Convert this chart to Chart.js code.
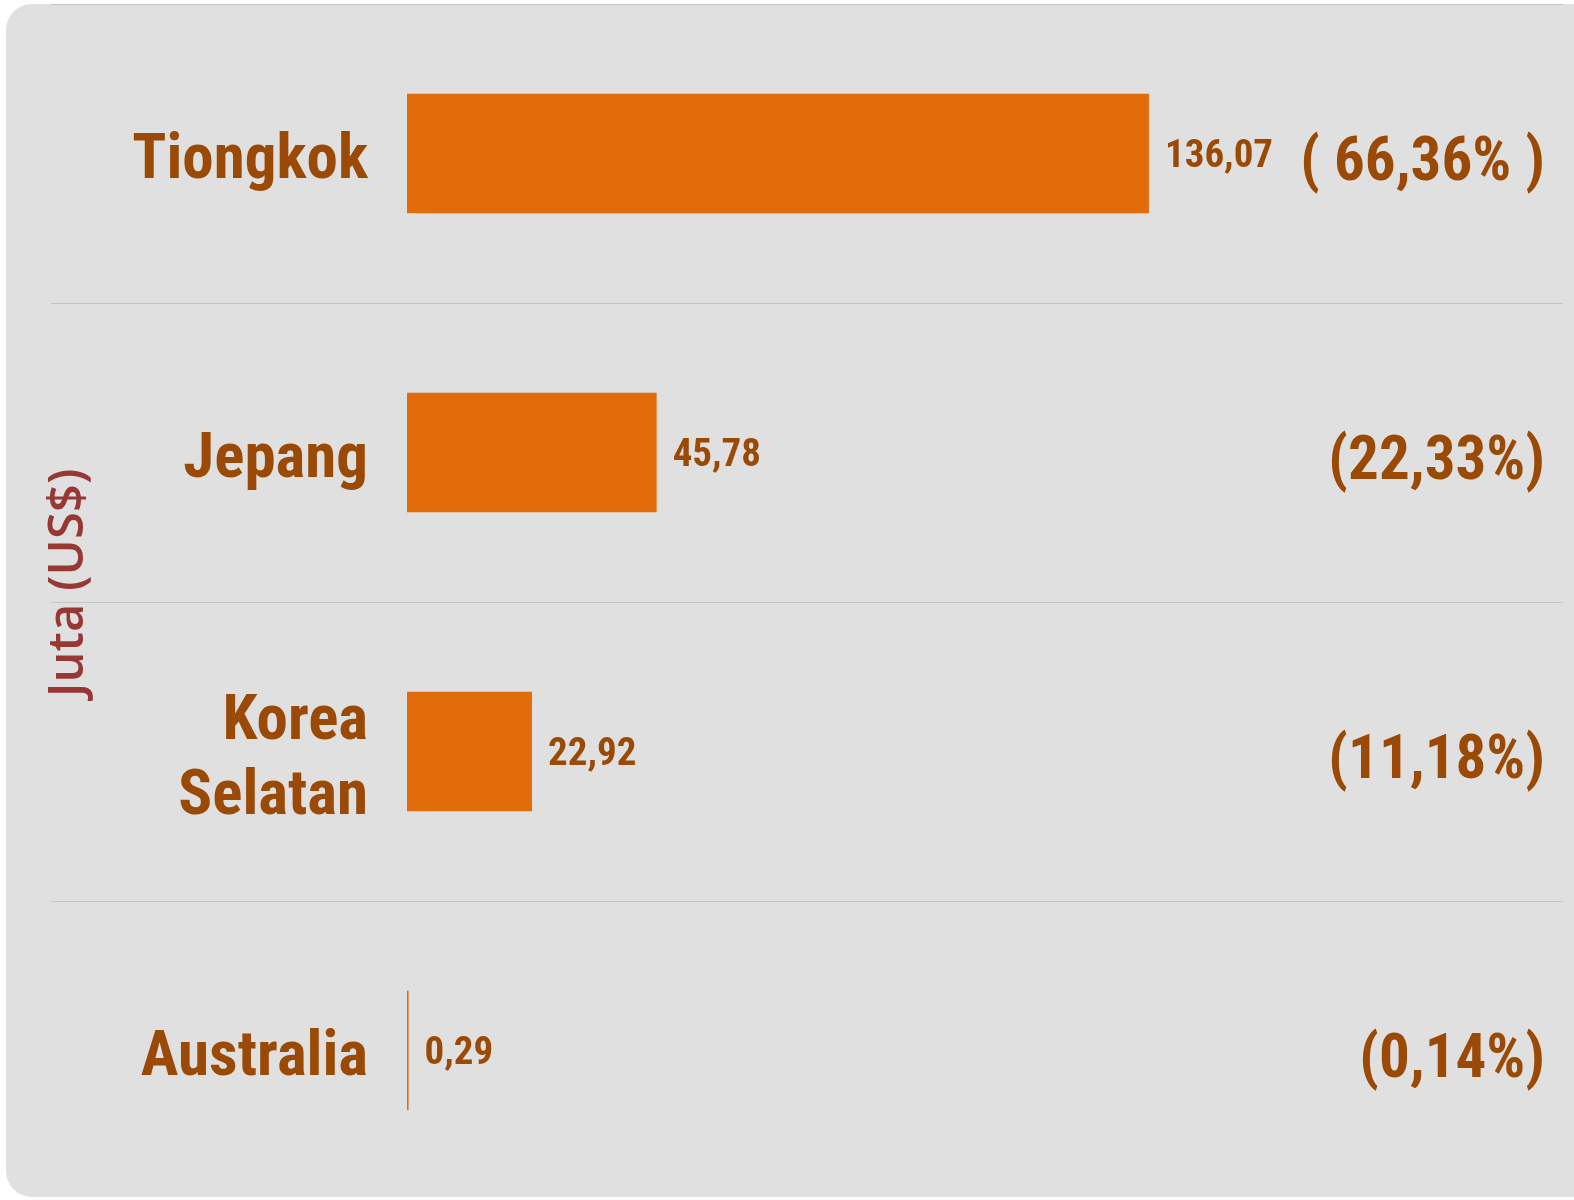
<!DOCTYPE html>
<html>
<head>
<meta charset="utf-8">
<script src="https://cdn.jsdelivr.net/npm/chart.js@4"></script>
<style>
  body { margin: 0; background: #fff; }
  #wrap { position: relative; width: 1574px; height: 1200px; }
  #panel { position: absolute; left: 6px; top: 4px; right: 0; bottom: 3px; background: #e0e0e0; border-radius: 26px 0 0 26px; }
  #wrap canvas { position: relative; }
</style>
</head>
<body>
<div id="wrap"><div id="panel"></div><canvas id="exports"></canvas></div>
<script>
// export value by destination, million US$
const countries = ['Tiongkok', 'Jepang', ['Korea', 'Selatan'], 'Australia'];
const values = [136.07, 45.78, 22.92, 0.29];
const valueLabels = ['136,07', '45,78', '22,92', '0,29'];
const shareLabels = ['( 66,36% )', '(22,33%)', '(11,18%)', '(0,14%)'];

const brown = '#9b4a05';
const narrow = "'Roboto Condensed', 'Liberation Sans Narrow', sans-serif";

const barLabels = {
    id: 'barLabels',
    afterDatasetsDraw(chart) {
        const ctx = chart.ctx;
        const area = chart.chartArea;
        ctx.save();
        ctx.fillStyle = brown;
        ctx.textBaseline = 'middle';
        chart.getDatasetMeta(0).data.forEach((bar, i) => {
            ctx.font = 'bold 39px ' + narrow;
            ctx.textAlign = 'left';
            ctx.fillText(valueLabels[i], bar.x + 16, bar.y + 4);
            ctx.font = 'bold 61px ' + narrow;
            ctx.textAlign = 'right';
            ctx.fillText(shareLabels[i], area.right - 18, bar.y + 11);
        });
        ctx.restore();
    }
};

new Chart(document.getElementById('exports'), {
    type: 'bar',
    data: {
        labels: countries,
        datasets: [{
            data: values,
            backgroundColor: '#e36c0a',
            barPercentage: 0.4,
            categoryPercentage: 1
        }]
    },
    options: {
        indexAxis: 'y',
        responsive: true,
        maintainAspectRatio: false,
        animation: false,
        layout: { padding: { left: 0, top: 4, right: 11, bottom: 0 } },
        plugins: {
            legend: { display: false },
            tooltip: { enabled: false }
        },
        scales: {
            x: {
                display: false,
                min: 0,
                max: 212
            },
            y: {
                afterFit(scale) { scale.width = 407; },
                border: { display: false },
                grid: {
                    color: '#c4c4c4',
                    lineWidth: 1,
                    offset: true,
                    drawTicks: true,
                    tickLength: 356
                },
                ticks: {
                    color: brown,
                    padding: -317,
                    labelOffset: 9,
                    font: { family: narrow, size: 63, weight: 'bold', lineHeight: 1.19 }
                },
                title: {
                    display: true,
                    text: '   Juta (US$)',
                    color: '#973834',
                    padding: { top: 40, bottom: 0 },
                    font: { family: "'Open Sans', sans-serif", size: 49, weight: '600', lineHeight: 1.2 }
                }
            }
        }
    },
    plugins: [barLabels]
});
</script>
</body>
</html>
